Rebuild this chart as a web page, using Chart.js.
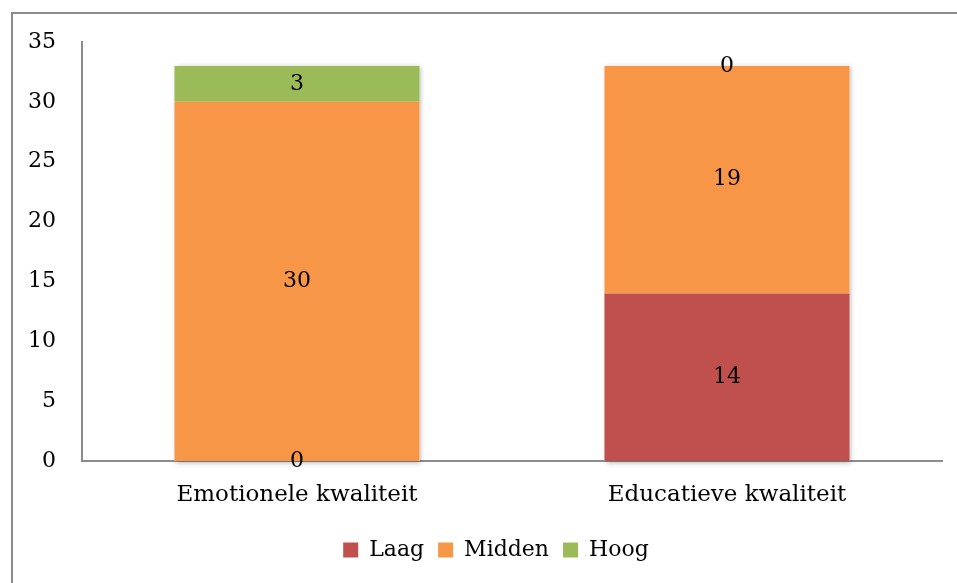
<!DOCTYPE html>
<html>
<head>
<meta charset="utf-8">
<script src="https://cdn.jsdelivr.net/npm/chart.js@4.4.0/dist/chart.umd.min.js"></script>
<style>
  html, body { margin: 0; padding: 0; background: #fff; overflow: hidden; }
  #wrap { position: relative; width: 957px; height: 583px; overflow: hidden; }
  #frame { position: absolute; left: 11px; top: 12px; width: 1000px; height: 700px; border-left: 2px solid #8c8c8c; border-top: 2px solid #8c8c8c; }
  canvas { position: absolute; left: 0; top: 0; }
</style>
</head>
<body>
<div id="wrap">
  <div id="frame"></div>
  <canvas id="myChart" width="957" height="583"></canvas>
</div>
<script>
const categories = ['Emotionele kwaliteit', 'Educatieve kwaliteit'];
const laag = [0, 14];
const midden = [30, 19];
const hoog = [3, 0];
const yTicks = [0, 5, 10, 15, 20, 25, 30, 35];

const fontFam = '"DejaVu Serif", serif';

// zachte schaduw achter elke volledige staaf
const barShadow = {
  id: 'barShadow',
  beforeDatasetsDraw(chart) {
    const ctx = chart.ctx;
    const metas = chart.data.datasets.map((d, i) => chart.getDatasetMeta(i));
    ctx.save();
    ctx.fillStyle = '#fff';
    ctx.shadowColor = 'rgba(0,0,0,0.28)';
    ctx.shadowBlur = 5;
    ctx.shadowOffsetX = 1.5;
    ctx.shadowOffsetY = 1.5;
    metas[0].data.forEach((bar, j) => {
      let top = bar.base, bottom = bar.base;
      metas.forEach(m => {
        top = Math.min(top, m.data[j].y);
        bottom = Math.max(bottom, m.data[j].base);
      });
      ctx.fillRect(bar.x - bar.width / 2, top, bar.width, bottom - top);
    });
    ctx.restore();
  }
};

// waarden midden in elk stuk van de staaf
const valueLabels = {
  id: 'valueLabels',
  afterDatasetsDraw(chart) {
    const ctx = chart.ctx;
    ctx.save();
    ctx.font = '22px ' + fontFam;
    ctx.fillStyle = '#000';
    ctx.textAlign = 'center';
    ctx.textBaseline = 'middle';
    chart.data.datasets.forEach((ds, i) => {
      chart.getDatasetMeta(i).data.forEach((bar, j) => {
        const y = (bar.y + bar.base) / 2;
        ctx.fillText(String(ds.data[j]), bar.x, y);
      });
    });
    ctx.restore();
  }
};

// legenda iets naar rechts, zoals in het origineel
const shiftLegend = {
  id: 'shiftLegend',
  afterLayout(chart) {
    const l = chart.legend;
    l.left += 25;
    l.right += 25;
  }
};

var canva = document.getElementById('myChart');
var myChart = new Chart(canva, {
  type: 'bar',
  data: {
    labels: categories,
    datasets: [
      { label: 'Laag', data: laag, backgroundColor: '#C0504D' },
      { label: 'Midden', data: midden, backgroundColor: '#F79646' },
      { label: 'Hoog', data: hoog, backgroundColor: '#9BBB59' }
    ]
  },
  options: {
    responsive: false,
    animation: false,
    layout: { padding: { top: 42, right: 15, left: 0, bottom: 12 } },
    datasets: { bar: { barPercentage: 0.57, categoryPercentage: 1 } },
    plugins: {
      tooltip: { enabled: false },
      legend: {
        position: 'bottom',
        labels: {
          color: '#000',
          font: { family: fontFam, size: 22 },
          boxWidth: 15,
          boxHeight: 15,
          padding: 14
        }
      }
    },
    scales: {
      x: {
        stacked: true,
        grid: { display: false },
        border: { display: true, color: '#8c8c8c', width: 2 },
        ticks: { color: '#000', font: { family: fontFam, size: 23 }, padding: 12 },
        afterFit: s => { s.height = 64; }
      },
      y: {
        stacked: true,
        min: 0,
        max: 35,
        afterBuildTicks: s => { s.ticks = yTicks.map(v => ({ value: v })); },
        grid: { display: false },
        border: { display: true, color: '#8c8c8c', width: 2 },
        ticks: { color: '#000', font: { family: fontFam, size: 22 }, padding: 18 },
        afterFit: s => { s.width = 82; }
      }
    }
  },
  plugins: [barShadow, valueLabels, shiftLegend]
});
</script>
</body>
</html>
